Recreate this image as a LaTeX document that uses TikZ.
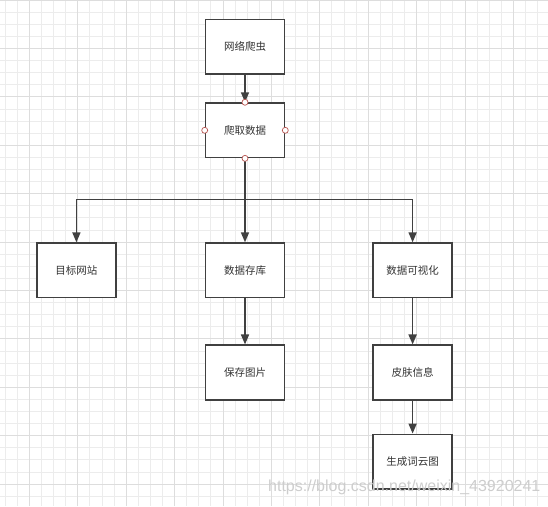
\documentclass[tikz,border=0pt]{standalone}
\usepackage{fontspec}
\setmainfont{Noto Sans CJK SC}
\newfontfamily\urlfont{Liberation Sans}
\usepackage{tikz}
\usetikzlibrary{arrows.meta,positioning}
\definecolor{linegray}{RGB}{64,64,64}
\definecolor{textgray}{RGB}{51,51,51}
\definecolor{minorgray}{RGB}{236,236,236}
\definecolor{majorgray}{RGB}{221,221,221}
\definecolor{portred}{RGB}{184,84,80}
\definecolor{markgray}{RGB}{205,205,205}

\tikzset{
    box/.style={draw=linegray, line width=1.6pt, fill=white, minimum width=79pt,
        minimum height=54.5pt, inner sep=0pt, text=textgray,
        font=\fontsize{10.5}{12}\selectfont},
    edge/.style={draw=linegray, line width=1.6pt, -{Triangle[length=10pt,width=8pt]}},
    port/.style={circle, draw=portred, fill=white, line width=0.7pt, inner sep=0pt,
        minimum size=6pt},
}

\begin{document}
\begin{tikzpicture}[x=1pt,y=1pt]
    \useasboundingbox (0,0) rectangle (548,-506);
    \draw[minorgray, line width=0.8pt, step=12.1pt, xshift=29.3pt] (-29.3,0) grid (518.7,-506);
    \draw[majorgray, line width=0.8pt, step=48.4pt, xshift=29.3pt] (-29.3,0) grid (518.7,-506);

    \node[box] (v1) at (245,-46.7) {网络爬虫};
    \node[box, below=27.5pt of v1] (v2) {爬取数据};
    \node[box, below=84pt of v2] (v4) {数据存库};
    \node[box, left=88pt of v4] (v3) {目标网站};
    \node[box, right=87pt of v4] (v5) {数据可视化};
    \node[box, below=46pt of v4] (v6) {保存图片};
    \node[box, below=46pt of v5] (v7) {皮肤信息};
    \node[box, below=33pt of v7] (v8) {生成词云图};
    \coordinate[below=41pt of v2] (split);

    \draw[edge] (v1) -- (v2);
    \draw[edge] (v2) -- (v4);
    \draw[edge] (split) -| (v3);
    \draw[edge] (split) -| (v5);
    \draw[edge] (v4) -- (v6);
    \draw[edge] (v5) -- (v7);
    \draw[edge] (v7) -- (v8);

    \node[port] (p1) at (v2.north) {};
    \node[port] (p2) at (v2.west) {};
    \node[port] (p3) at (v2.east) {};
    \node[port] (p4) at (v2.south) {};

    \node[text=markgray, inner sep=0pt, anchor=west, font=\urlfont\fontsize{16}{18}\selectfont]
        (mark) at (268,-487) {https://blog.csdn.net/weixin\_43920241};
\end{tikzpicture}
\end{document}
